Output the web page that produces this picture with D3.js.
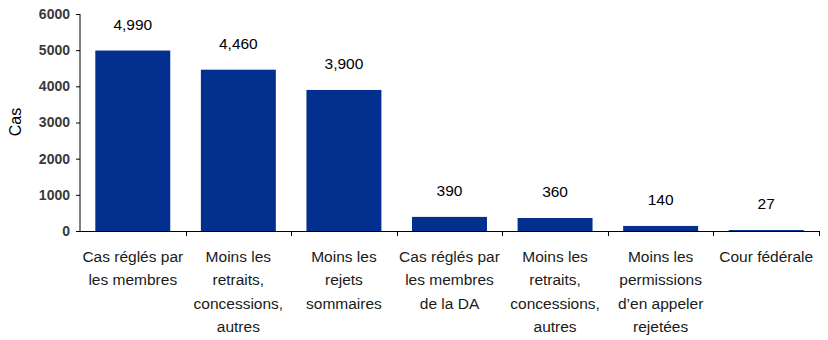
<!DOCTYPE html>
<html><head><meta charset="utf-8">
<script src="https://cdn.jsdelivr.net/npm/d3@7"></script>
<style>body{margin:0;background:#fff}</style>
</head><body>
<svg id="c" width="828" height="340"></svg>
<script>
const categories = [
  ["Cas réglés par","les membres"],
  ["Moins les","retraits,","concessions,","autres"],
  ["Moins les","rejets","sommaires"],
  ["Cas réglés par","les membres","de la DA"],
  ["Moins les","retraits,","concessions,","autres"],
  ["Moins les","permissions","d’en appeler","rejetées"],
  ["Cour fédérale"]
];
const values = [4990, 4460, 3900, 390, 360, 140, 27];
const labels = ["4,990","4,460","3,900","390","360","140","27"];
const yTicks = [0,1000,2000,3000,4000,5000,6000];

const svg = d3.select("#c");
const x = d3.scaleBand().domain(d3.range(categories.length)).range([80, 819]).paddingInner(0.29).paddingOuter(0.145);
const y = d3.scaleLinear().domain([0, 6000]).range([231, 14]);

svg.selectAll("rect.bar").data(values).join("rect")
  .attr("class","bar")
  .attr("x",(d,i)=>x(i)).attr("width",x.bandwidth())
  .attr("y",d=>y(d)).attr("height",d=>y(0)-y(d))
  .attr("fill","#03308f");

svg.selectAll("text.val").data(values).join("text")
  .attr("class","val")
  .attr("x",(d,i)=>x(i)+x.bandwidth()/2)
  .attr("y",d=>y(d)-21)
  .attr("text-anchor","middle")
  .attr("font-family","Liberation Sans, Arial, sans-serif")
  .attr("font-size",15.5).attr("fill","#000")
  .text((d,i)=>labels[i]);

// y axis
const ya = svg.append("g").attr("transform","translate(80,0)")
  .call(d3.axisLeft(y).tickValues(yTicks).tickSize(4).tickPadding(6).tickFormat(d3.format("d")));
ya.select(".domain").attr("stroke","#000").attr("d","M0,14V231");
ya.selectAll(".tick line").attr("stroke","#000");
ya.selectAll(".tick text").attr("font-family","Liberation Sans, Arial, sans-serif")
  .attr("font-size",14).attr("font-weight","bold").attr("fill","#3a3a3a");

// x axis
const bw = x.step();
const xa = svg.append("g");
xa.append("line").attr("x1",80).attr("x2",819).attr("y1",231.5).attr("y2",231.5).attr("stroke","#000");
const bounds = d3.range(categories.length).map(i=>x(i)-x.paddingInner()*bw/2+bw);
xa.selectAll("line.tk").data(bounds).join("line")
  .attr("class","tk").attr("x1",d=>Math.round(d)+0.5).attr("x2",d=>Math.round(d)+0.5)
  .attr("y1",231).attr("y2",236).attr("stroke","#000");

const cl = svg.selectAll("text.cat").data(categories).join("text")
  .attr("class","cat")
  .attr("text-anchor","middle")
  .attr("font-family","Liberation Sans, Arial, sans-serif")
  .attr("font-size",15.5).attr("fill","#1a1a1a");
cl.each(function(lines,i){
  const t = d3.select(this);
  lines.forEach((ln,j)=>{
    t.append("tspan").attr("x",x(i)+x.bandwidth()/2).attr("y",262+j*23.3).text(ln);
  });
});

svg.append("text")
  .attr("transform","translate(21,122) rotate(-90)")
  .attr("text-anchor","middle")
  .attr("font-family","Liberation Sans, Arial, sans-serif")
  .attr("font-size",16).attr("fill","#000")
  .text("Cas");
</script>
</body></html>
